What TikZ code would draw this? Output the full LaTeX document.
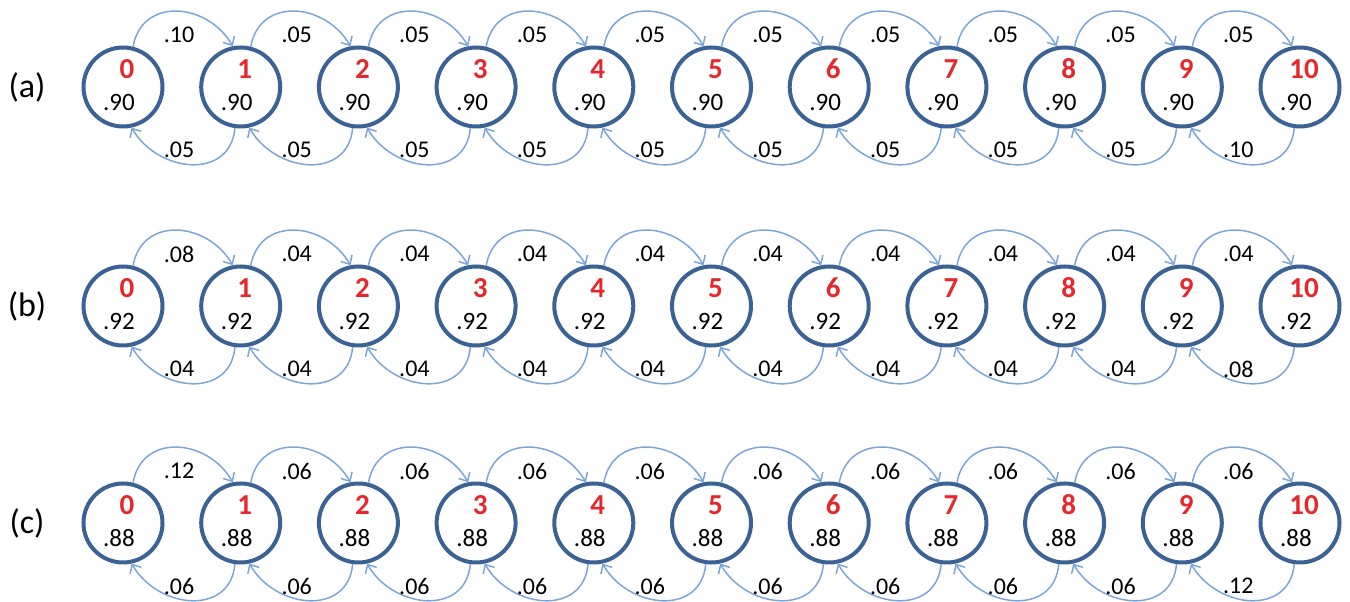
\documentclass[tikz,border=0pt]{standalone}
\usepackage{fontspec}
\setmainfont{Carlito}
\usetikzlibrary{arrows.meta}
\definecolor{circblue}{RGB}{58,98,148}
\definecolor{arrblue}{RGB}{125,165,215}
\definecolor{numred}{RGB}{230,40,45}
\begin{document}
\begin{tikzpicture}[x=1pt,y=1pt,
  state/.style={circle, draw=circblue, line width=4pt, minimum size=79pt, inner sep=0pt},
  num/.style={text=numred, font=\fontsize{29}{29}\selectfont\bfseries, inner sep=0pt},
  prob/.style={font=\fontsize{25}{25}\selectfont, inner sep=0pt},
  elab/.style={font=\fontsize{24}{24}\selectfont, inner sep=0pt},
  rowlab/.style={font=\fontsize{34}{34}\selectfont, inner sep=0pt},
  trans/.style={draw=arrblue, line width=1.5pt, -{Straight Barb[length=7pt,width=13pt]}, looseness=1.3},
]
\useasboundingbox (0,0) rectangle (1350,602);
\foreach \r/\y/\p/\e/\ee/\lab in {a/515/.90/.05/.10/a, b/296/.92/.04/.08/b, c/79/.88/.06/.12/c} {
  \node[rowlab] (lab\r) at (27,\y) {(\lab)};
  \foreach \i in {0,...,10} {
    \pgfmathsetmacro\xx{123+117.7*\i}
    \node[state] (\r\i) at (\xx,\y) {};
    \node[num] (\r\i n) at (\xx+4,\y+18) {\i};
    \node[prob] (\r\i p) at (\xx-4,\y-15) {\p};
  }
  \foreach \i in {0,...,9} {
    \pgfmathtruncatemacro\j{\i+1}
    \pgfmathsetmacro\mx{123+117.7*\i+56}
    \ifnum\i=0 \def\tv{\ee}\else\def\tv{\e}\fi
    \ifnum\i=9 \def\bv{\ee}\else\def\bv{\e}\fi
    \draw[trans] (\r\i.76) to[out=80,in=120] (\r\j.101);
    \draw[trans] (\r\j.-98) to[out=-95,in=-60] (\r\i.-78);
    \node[elab] (\r t\i) at (\mx,\y+52) {\tv};
    \node[elab] (\r b\i) at (\mx,\y-63) {\bv};
  }
}
\end{tikzpicture}
\end{document}
